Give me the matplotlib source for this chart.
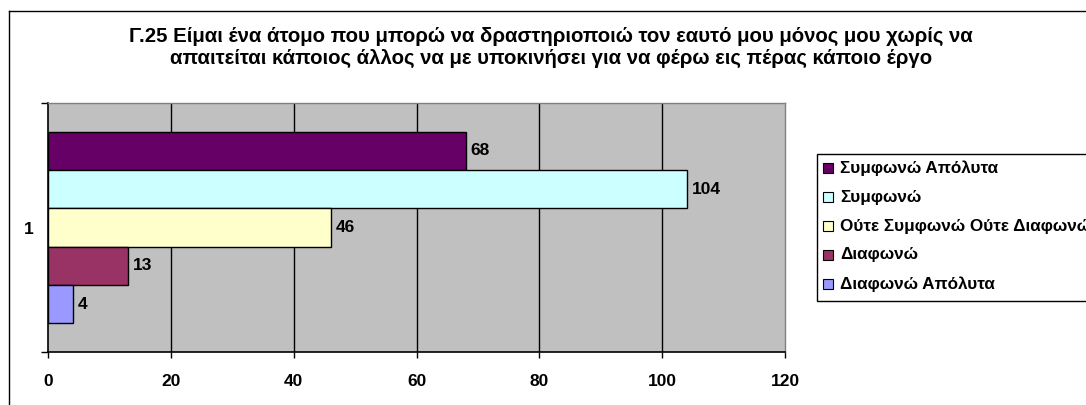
import matplotlib
matplotlib.use("Agg")
import matplotlib.pyplot as plt
from matplotlib.patches import Rectangle
from matplotlib.lines import Line2D

plt.rcParams['font.family'] = ['Liberation Sans', 'DejaVu Sans']
plt.rcParams['font.weight'] = 'bold'

title_lines = [
    "Γ.25 Είμαι ένα άτομο που μπορώ να δραστηριοποιώ τον εαυτό μου μόνος μου χωρίς να",
    "απαιτείται κάποιος άλλος να με υποκινήσει για να φέρω εις πέρας κάποιο έργο",
]
series_names = ["Συμφωνώ Απόλυτα", "Συμφωνώ", "Ούτε Συμφωνώ Ούτε Διαφωνώ",
                "Διαφωνώ", "Διαφωνώ Απόλυτα"]
values = [68, 104, 46, 13, 4]
colors = ["#660066", "#CCFFFF", "#FFFFCC", "#993366", "#9999FF"]
category_label = "1"
x_ticks = [0, 20, 40, 60, 80, 100, 120]

W, H = 1086, 405
fig = plt.figure(figsize=(W / 100, H / 100), dpi=100)
fig.patch.set_facecolor("white")

# chart-area frame (only left and top edges fall inside the canvas)
fig.add_artist(Line2D([8.5 / W, 8.5 / W], [0, 1 - 10.5 / H], color="black", lw=1.0,
                      transform=fig.transFigure))
fig.add_artist(Line2D([8.5 / W, 1], [1 - 10.5 / H, 1 - 10.5 / H], color="black", lw=1.0,
                      transform=fig.transFigure))

# title
for i, (line, yb) in enumerate(zip(title_lines, [42, 64])):
    fig.text(551 / W, 1 - yb / H, line, ha="center", va="baseline",
             fontsize=14.7, fontweight="bold")

left, right, top, bottom = 48, 785, 103, 352
ax = fig.add_axes([left / W, 1 - bottom / H, (right - left) / W, (bottom - top) / H])
ax.set_facecolor("#C0C0C0")

n = len(values)
gap = 1.5
h = 1.0 / (n + gap)
for i, (v, c) in enumerate(zip(values, colors)):
    yc = 1 + ((n - 1) / 2 - i) * h
    ax.barh(yc, v, height=h, color=c, edgecolor="black", linewidth=1.0, zorder=3,
            label=series_names[i])
    ax.text(v + 0.8, yc, str(v), ha="left", va="center", fontsize=12.5,
            fontweight="bold", zorder=4)

ax.set_xlim(0, 120)
ax.set_ylim(0.5, 1.5)
ax.set_xticks(x_ticks)
ax.set_xticklabels([str(t) for t in x_ticks], fontsize=12.5, fontweight="bold")
ax.tick_params(axis="x", direction="out", length=4, width=1.0, pad=12)
ax.set_yticks([0.5, 1.5])
ax.set_yticklabels(["", ""])
ax.set_yticks([1.0], minor=True)
ax.set_yticklabels([category_label], minor=True, fontsize=12.5, fontweight="bold")
ax.tick_params(axis="y", which="major", direction="out", length=5, width=1.0)
ax.tick_params(axis="y", which="minor", length=0, pad=10)

for x in x_ticks[1:-1]:
    ax.axvline(x, color="black", lw=1.0, zorder=1)

for s in ["top", "right"]:
    ax.spines[s].set_color("#808080")
    ax.spines[s].set_linewidth(1.0)
for s in ["left", "bottom"]:
    ax.spines[s].set_color("black")
    ax.spines[s].set_linewidth(1.2)
ax.spines["top"].set_zorder(5)

# legend box, running past the right edge of the canvas
lx0, ly0, ly1 = 817, 154, 301
fig.add_artist(Rectangle((lx0 / W, 1 - ly1 / H), (W + 20 - lx0) / W, (ly1 - ly0) / H,
                         transform=fig.transFigure, facecolor="white",
                         edgecolor="black", lw=1.0, clip_on=False))
for i, (name, c) in enumerate(zip(series_names, colors)):
    yc = 168 + 29 * i
    fig.add_artist(Rectangle((823 / W, 1 - (yc + 5) / H), 10 / W, 10 / H,
                             transform=fig.transFigure, facecolor=c,
                             edgecolor="black", lw=0.8))
    fig.text(840 / W, 1 - yc / H, name, ha="left", va="center", fontsize=12.3,
             fontweight="bold")

fig.savefig("out.png", dpi=100)
